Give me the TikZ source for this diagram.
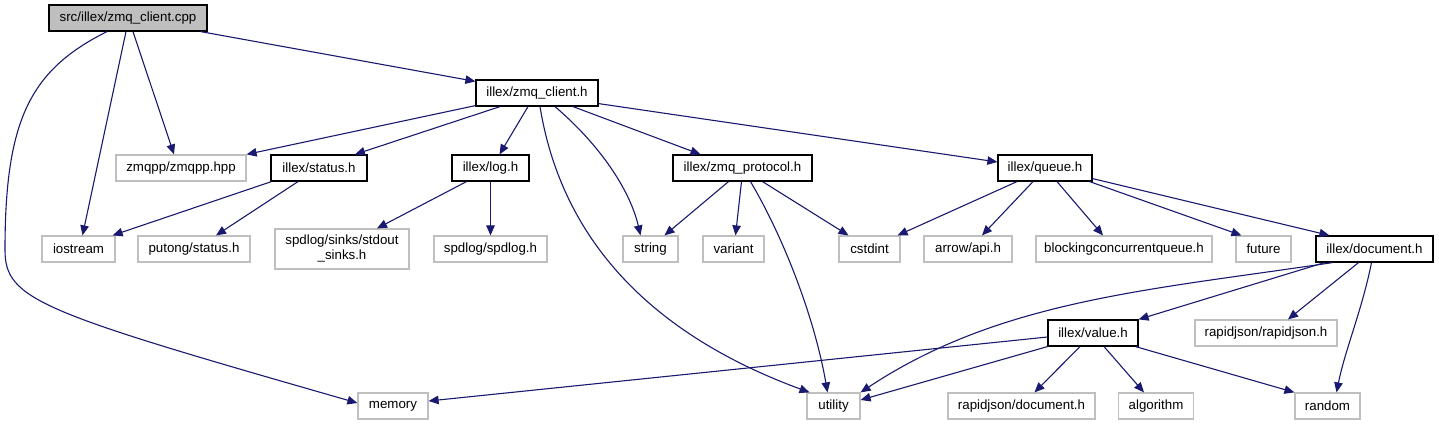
\documentclass[tikz,border=0pt]{standalone}
\usepackage{fontspec}
\setmainfont{Liberation Sans}
\usepackage{tikz}
\usetikzlibrary{arrows.meta, positioning, calc}
\definecolor{edgeBlue}{HTML}{191970}
\definecolor{extGray}{HTML}{BFBFBF}
\definecolor{rootGray}{HTML}{BFBFBF}

\begin{document}
\begin{tikzpicture}[x=1pt, y=-1pt,
    hdr/.style={draw=black, line width=1.2pt, fill=white, inner sep=0pt,
      minimum height=26pt, font=\fontsize{13.3}{15}\selectfont},
    sys/.style={hdr, draw=extGray},
    edge/.style={-{Triangle[length=10pt, width=8.5pt]}, line width=1.1pt, edgeBlue}]
    \useasboundingbox (0,0) rectangle (1439,425);
    % source file
    \node[hdr, fill=rootGray, minimum width=158pt] (cpp) at (128,18) {src/illex/zmq\_client.cpp};
    % project headers
    \foreach \nm/\lbl/\x/\y/\w in {zc/{illex/zmq\_client.h}/537/93/122, status/{illex/status.h}/319/168/96,
        log/{illex/log.h}/490.5/168/77, proto/{illex/zmq\_protocol.h}/742.5/168/139,
        queue/{illex/queue.h}/1045/168/94, document/{illex/document.h}/1374.5/249/117,
        value/{illex/value.h}/1093/333/90} {
      \node[hdr, minimum width=\w pt] (\nm) at (\x,\y) {\lbl};
    }
    % external headers
    \foreach \nm/\lbl/\x/\y/\w in {zmqpp/{zmqpp/zmqpp.hpp}/181/168/130, iostream/iostream/78.5/249/73,
        putong/{putong/status.h}/194/249/112, spdlog/{spdlog/spdlog.h}/490.5/249/113,
        string/string/650.5/249/55, variant/variant/733.5/249/61, cstdint/cstdint/869.5/249/61,
        arrow/{arrow/api.h}/968/249/88, blocking/blockingconcurrentqueue.h/1124/249/176,
        future/future/1263.5/249/55, rjson/{rapidjson/rapidjson.h}/1266/333/142,
        memory/memory/393/406/70, utility/utility/833.5/406/53,
        rjdoc/{rapidjson/document.h}/1021.5/406/147, algorithm/algorithm/1156/406/75,
        random/random/1327.5/406/65} {
      \node[sys, minimum width=\w pt] (\nm) at (\x,\y) {\lbl};
    }
    \node[sys, minimum width=134pt, minimum height=40pt, align=center] (sinks) at (342,249)
      {spdlog/sinks/stdout\\\_sinks.h};

    % from the source file
    \draw[edge] ([xshift=-7pt]cpp.south east) -- ([yshift=-2pt]zc.north west);
    \draw[edge] ([xshift=-21pt]cpp.south) .. controls (30,70) and (5,120) .. (5,250)
      .. controls (5,300) and (40,312) .. ([yshift=3pt]memory.west);
    \draw[edge] ([xshift=-2pt]cpp.south) -- ([xshift=4pt]iostream.north);
    \draw[edge] ([xshift=5pt]cpp.south) -- ([xshift=-7pt]zmqpp.north);
    % zmq_client.h
    \draw[edge] ([yshift=1pt]zc.south west) -- (zmqpp.north east);
    \draw[edge] ([xshift=-37pt]zc.south) -- ([xshift=36pt]status.north);
    \draw[edge] ([xshift=-9pt]zc.south) -- ([xshift=9pt]log.north);
    \draw[edge] ([xshift=3pt]zc.south) .. controls (560,230) and (640,330) .. ([xshift=-24pt]utility.north);
    \draw[edge] ([xshift=18pt]zc.south) .. controls (600,145) and (630,190) .. ([xshift=-10pt]string.north);
    \draw[edge] ([xshift=36pt]zc.south) -- ([xshift=-42pt]proto.north);
    \draw[edge] ([yshift=3pt]zc.south east) -- ([yshift=6pt]queue.west);
    % status.h and log.h
    \draw[edge] ([xshift=1pt]status.south west) -- ([xshift=-3pt]iostream.north east);
    \draw[edge] ([xshift=-21pt]status.south) -- ([xshift=22pt]putong.north);
    \draw[edge] ([xshift=-24pt]log.south) -- ([xshift=35pt]sinks.north);
    \draw[edge] (log) -- (spdlog);
    % zmq_protocol.h
    \draw[edge] ([xshift=-14pt]proto.south) -- ([xshift=14pt]string.north);
    \draw[edge] ([xshift=-1pt]proto.south) -- ([xshift=2pt]variant.north);
    \draw[edge] ([xshift=20pt]proto.south) -- ([xshift=-21pt]cstdint.north);
    \draw[edge] ([xshift=8pt]proto.south) .. controls (785,240) and (815,320) .. ([xshift=-6pt]utility.north);
    % queue.h
    \draw[edge] ([xshift=-28pt]queue.south) -- ([xshift=-3pt]cstdint.north east);
    \draw[edge] ([xshift=-12pt]queue.south) -- ([xshift=14pt]arrow.north);
    \draw[edge] ([xshift=12pt]queue.south) -- ([xshift=-21pt]blocking.north);
    \draw[edge] ([xshift=-3pt]queue.south east) -- ([xshift=6pt]future.north west);
    \draw[edge] ([yshift=3pt]queue.south east) -- ([xshift=14pt]document.north west);
    % document.h
    \draw[edge] ([xshift=-42pt]document.south) .. controls (1150,290) and (1000,300) .. (utility.north east);
    \draw[edge] ([xshift=-50pt]document.south) -- (value.north east);
    \draw[edge] ([xshift=-16pt]document.south) -- ([xshift=22pt]rjson.north);
    \draw[edge] ([xshift=-3pt]document.south) .. controls (1362,310) and (1345,350) .. ([xshift=9pt]random.north);
    % value.h
    \draw[edge] ([yshift=-4pt]value.west) -- ([yshift=5pt]memory.east);
    \draw[edge] (value.south west) -- ([yshift=6pt]utility.east);
    \draw[edge] ([xshift=-13pt]value.south) -- ([xshift=13pt]rjdoc.north);
    \draw[edge] ([xshift=11pt]value.south) -- ([xshift=-12pt]algorithm.north);
    \draw[edge] ([xshift=-3pt]value.south east) -- (random.north west);
\end{tikzpicture}
\end{document}
